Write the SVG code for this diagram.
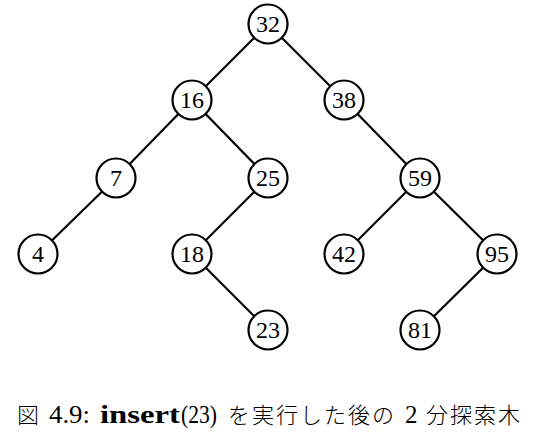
<svg xmlns="http://www.w3.org/2000/svg" width="545" height="438" viewBox="0 0 545 438">
<style>
.n circle{fill:#fff;stroke:#000;stroke-width:2.2}
.n text{font-family:"Liberation Serif","DejaVu Serif",serif;font-size:24px;text-anchor:middle;fill:#000}
#edges line{stroke:#000;stroke-width:2.2}
.cap{font-family:"Liberation Serif",serif;font-size:25px;fill:#000}
.cj{font-family:"Noto Sans CJK JP",sans-serif;font-size:22px;font-weight:300;fill:#000}
</style>
<rect width="545" height="438" fill="#fff"/>
<g id="edges">
<line x1="268" y1="24" x2="192" y2="100"/>
<line x1="268" y1="24" x2="344" y2="100"/>
<line x1="192" y1="100" x2="116" y2="178"/>
<line x1="192" y1="100" x2="268" y2="178"/>
<line x1="344" y1="100" x2="420" y2="178"/>
<line x1="116" y1="178" x2="38" y2="254"/>
<line x1="268" y1="178" x2="192" y2="254"/>
<line x1="420" y1="178" x2="344" y2="254"/>
<line x1="420" y1="178" x2="497" y2="254"/>
<line x1="192" y1="254" x2="268" y2="330"/>
<line x1="497" y1="254" x2="420" y2="330"/>
</g>
<g id="n32" class="n"><circle cx="268" cy="24" r="19.5"/><text x="268" y="32">32</text></g>
<g id="n16" class="n"><circle cx="192" cy="100" r="19.5"/><text x="192" y="108">16</text></g>
<g id="n38" class="n"><circle cx="344" cy="100" r="19.5"/><text x="344" y="108">38</text></g>
<g id="n7" class="n"><circle cx="116" cy="178" r="19.5"/><text x="116" y="186">7</text></g>
<g id="n25" class="n"><circle cx="268" cy="178" r="19.5"/><text x="268" y="186">25</text></g>
<g id="n59" class="n"><circle cx="420" cy="178" r="19.5"/><text x="420" y="186">59</text></g>
<g id="n4" class="n"><circle cx="38" cy="254" r="19.5"/><text x="38" y="262">4</text></g>
<g id="n18" class="n"><circle cx="192" cy="254" r="19.5"/><text x="192" y="262">18</text></g>
<g id="n42" class="n"><circle cx="344" cy="254" r="19.5"/><text x="344" y="262">42</text></g>
<g id="n95" class="n"><circle cx="497" cy="254" r="19.5"/><text x="497" y="262">95</text></g>
<g id="n23" class="n"><circle cx="268" cy="330" r="19.5"/><text x="268" y="338">23</text></g>
<g id="n81" class="n"><circle cx="420" cy="330" r="19.5"/><text x="420" y="338">81</text></g>
<g id="caption">
<text class="cj" x="17" y="423">図</text>
<text class="cap" x="49" y="423" textLength="41" lengthAdjust="spacingAndGlyphs">4.9:</text>
<text class="cap" x="100" y="423" font-weight="bold" textLength="80" lengthAdjust="spacingAndGlyphs">insert</text>
<text class="cap" x="181" y="423" textLength="36" lengthAdjust="spacingAndGlyphs">(23)</text>
<text class="cj" x="228" y="423" textLength="166" lengthAdjust="spacing">を実行した後の</text>
<text class="cap" x="405" y="423">2</text>
<text class="cj" x="426" y="423" textLength="94" lengthAdjust="spacing">分探索木</text>
</g>
</svg>
